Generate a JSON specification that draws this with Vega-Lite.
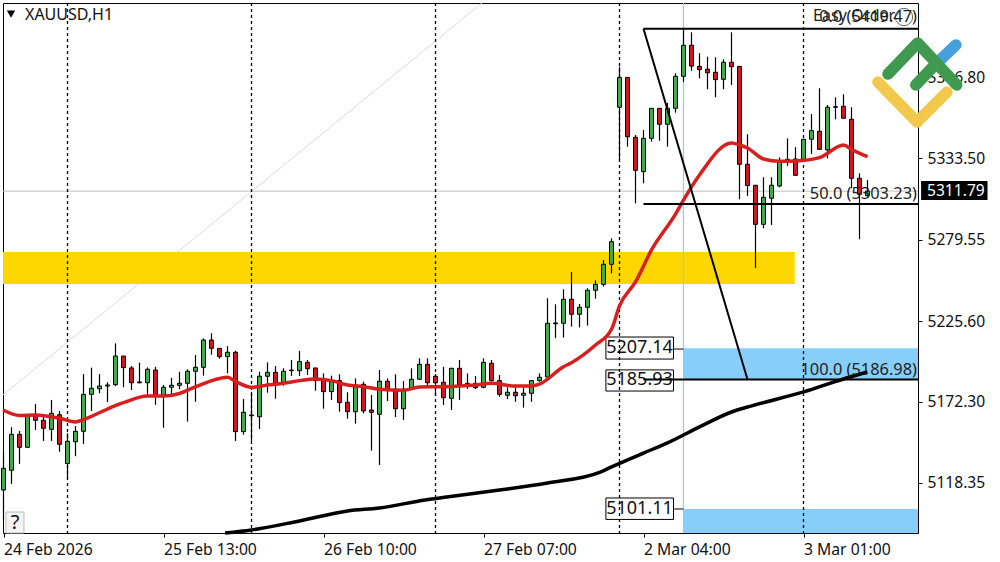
{"$schema":"https://vega.github.io/schema/vega-lite/v6.json","width":915,"height":530,"autosize":{"type":"none"},"padding":{"left":3,"top":3,"right":82,"bottom":29},"background":"#ffffff","view":{"stroke":"#000000","strokeWidth":1},"config":{"font":"Noto Sans","text":{"font":"Noto Sans"}},
"datasets":{"candles":[
{"bar":0,"open":5113.7,"high":5139.1,"low":5093.8,"close":5128.1},{"bar":1,"open":5126.8,"high":5155.3,"low":5117.7,"close":5150.6},{"bar":2,"open":5150.6,"high":5152.8,"low":5131.0,"close":5142.0},{"bar":3,"open":5142.0,"high":5163.4,"low":5142.0,"close":5162.8},{"bar":4,"open":5163.6,"high":5170.7,"low":5153.5,"close":5159.9},{"bar":5,"open":5159.9,"high":5162.8,"low":5146.2,"close":5154.6},{"bar":6,"open":5153.9,"high":5173.4,"low":5146.2,"close":5164.5},{"bar":7,"open":5163.6,"high":5166.1,"low":5139.1,"close":5144.0},{"bar":8,"open":5131.2,"high":5151.3,"low":5121.4,"close":5146.0},{"bar":9,"open":5145.7,"high":5156.1,"low":5136.1,"close":5152.6},
{"bar":10,"open":5152.6,"high":5190.6,"low":5144.2,"close":5177.1},{"bar":11,"open":5177.1,"high":5194.8,"low":5166.1,"close":5181.1},{"bar":12,"open":5180.8,"high":5190.6,"low":5177.8,"close":5182.6},{"bar":13,"open":5182.6,"high":5185.1,"low":5172.0,"close":5183.3},{"bar":14,"open":5183.5,"high":5210.9,"low":5182.6,"close":5202.5},{"bar":15,"open":5202.5,"high":5202.5,"low":5181.8,"close":5194.8},{"bar":16,"open":5194.6,"high":5195.9,"low":5180.0,"close":5184.8},{"bar":17,"open":5185.3,"high":5198.1,"low":5184.4,"close":5184.8},{"bar":18,"open":5184.8,"high":5195.0,"low":5176.7,"close":5193.7},{"bar":19,"open":5193.2,"high":5195.4,"low":5170.2,"close":5176.0},
{"bar":20,"open":5176.5,"high":5183.3,"low":5155.0,"close":5181.8},{"bar":21,"open":5181.8,"high":5188.1,"low":5177.3,"close":5183.1},{"bar":22,"open":5183.1,"high":5192.1,"low":5180.5,"close":5184.4},{"bar":23,"open":5184.4,"high":5193.7,"low":5159.0,"close":5192.4},{"bar":24,"open":5192.4,"high":5203.2,"low":5172.2,"close":5195.0},{"bar":25,"open":5195.0,"high":5214.2,"low":5189.5,"close":5213.1},{"bar":26,"open":5213.1,"high":5217.6,"low":5203.4,"close":5207.6},{"bar":27,"open":5207.6,"high":5207.6,"low":5200.7,"close":5202.1},{"bar":28,"open":5202.1,"high":5209.2,"low":5191.0,"close":5205.0},{"bar":29,"open":5205.0,"high":5206.0,"low":5146.2,"close":5152.4},
{"bar":30,"open":5152.4,"high":5174.0,"low":5150.4,"close":5165.2},{"bar":31,"open":5163.4,"high":5178.7,"low":5146.2,"close":5162.9},{"bar":32,"open":5162.3,"high":5192.1,"low":5154.1,"close":5189.1},{"bar":33,"open":5189.1,"high":5198.3,"low":5178.2,"close":5191.7},{"bar":34,"open":5191.7,"high":5195.9,"low":5174.2,"close":5183.3},{"bar":35,"open":5184.4,"high":5194.4,"low":5182.8,"close":5192.4},{"bar":36,"open":5193.2,"high":5199.9,"low":5189.3,"close":5192.8},{"bar":37,"open":5192.8,"high":5206.0,"low":5189.3,"close":5198.8},{"bar":38,"open":5198.3,"high":5199.9,"low":5189.9,"close":5194.1},{"bar":39,"open":5194.6,"high":5194.6,"low":5179.5,"close":5186.2},
{"bar":40,"open":5186.6,"high":5191.0,"low":5167.6,"close":5178.9},{"bar":41,"open":5178.9,"high":5189.5,"low":5173.4,"close":5185.5},{"bar":42,"open":5186.2,"high":5190.4,"low":5165.6,"close":5171.6},{"bar":43,"open":5171.8,"high":5178.5,"low":5161.0,"close":5165.6},{"bar":44,"open":5165.6,"high":5187.7,"low":5157.7,"close":5183.3},{"bar":45,"open":5183.8,"high":5185.5,"low":5164.5,"close":5166.1},{"bar":46,"open":5166.7,"high":5176.7,"low":5139.8,"close":5165.2},{"bar":47,"open":5163.9,"high":5193.2,"low":5130.3,"close":5185.8},{"bar":48,"open":5185.8,"high":5187.7,"low":5172.7,"close":5180.0},{"bar":49,"open":5180.5,"high":5190.4,"low":5162.1,"close":5167.6},
{"bar":50,"open":5167.6,"high":5185.9,"low":5160.1,"close":5180.5},{"bar":51,"open":5180.5,"high":5194.4,"low":5180.0,"close":5187.1},{"bar":52,"open":5187.1,"high":5201.0,"low":5186.6,"close":5197.0},{"bar":53,"open":5197.0,"high":5201.0,"low":5182.6,"close":5184.8},{"bar":54,"open":5189.1,"high":5190.6,"low":5176.7,"close":5184.8},{"bar":55,"open":5185.1,"high":5195.4,"low":5170.0,"close":5174.9},{"bar":56,"open":5174.5,"high":5194.4,"low":5166.7,"close":5194.4},{"bar":57,"open":5194.4,"high":5199.9,"low":5173.4,"close":5183.3},{"bar":58,"open":5184.4,"high":5191.0,"low":5180.7,"close":5183.3},{"bar":59,"open":5184.4,"high":5189.3,"low":5180.7,"close":5181.5},
{"bar":60,"open":5181.8,"high":5201.0,"low":5181.1,"close":5198.3},{"bar":61,"open":5197.7,"high":5199.9,"low":5185.5,"close":5186.2},{"bar":62,"open":5186.2,"high":5189.9,"low":5175.5,"close":5177.1},{"bar":63,"open":5176.5,"high":5181.8,"low":5174.0,"close":5178.5},{"bar":64,"open":5178.5,"high":5181.8,"low":5172.2,"close":5176.2},{"bar":65,"open":5176.5,"high":5181.8,"low":5168.3,"close":5177.8},{"bar":66,"open":5177.8,"high":5186.6,"low":5172.2,"close":5186.2},{"bar":67,"open":5186.2,"high":5191.0,"low":5185.5,"close":5188.4},{"bar":68,"open":5188.6,"high":5240.8,"low":5188.0,"close":5224.2},{"bar":69,"open":5224.4,"high":5236.8,"low":5214.3,"close":5223.9},
{"bar":70,"open":5224.2,"high":5246.7,"low":5214.7,"close":5240.1},{"bar":71,"open":5240.1,"high":5258.2,"low":5222.0,"close":5230.2},{"bar":72,"open":5230.2,"high":5237.0,"low":5221.5,"close":5234.8},{"bar":73,"open":5234.8,"high":5247.4,"low":5222.6,"close":5246.1},{"bar":74,"open":5246.1,"high":5252.7,"low":5240.5,"close":5250.0},{"bar":75,"open":5250.0,"high":5266.2,"low":5248.5,"close":5263.3},{"bar":76,"open":5263.3,"high":5280.5,"low":5257.3,"close":5278.3},{"bar":77,"open":5367.4,"high":5394.3,"low":5332.4,"close":5387.2},{"bar":78,"open":5387.2,"high":5387.2,"low":5341.3,"close":5347.9},{"bar":79,"open":5347.5,"high":5349.0,"low":5303.7,"close":5325.6},
{"bar":80,"open":5324.7,"high":5352.3,"low":5317.0,"close":5346.8},{"bar":81,"open":5346.8,"high":5366.7,"low":5344.6,"close":5366.7},{"bar":82,"open":5366.7,"high":5366.7,"low":5345.2,"close":5356.1},{"bar":83,"open":5356.1,"high":5370.2,"low":5341.3,"close":5366.7},{"bar":84,"open":5366.7,"high":5389.9,"low":5363.8,"close":5387.9},{"bar":85,"open":5387.9,"high":5419.3,"low":5384.1,"close":5408.5},{"bar":86,"open":5408.5,"high":5417.1,"low":5391.6,"close":5394.7},{"bar":87,"open":5394.5,"high":5403.2,"low":5386.6,"close":5392.3},{"bar":88,"open":5392.6,"high":5400.9,"low":5379.3,"close":5390.3},{"bar":89,"open":5390.6,"high":5400.5,"low":5374.0,"close":5385.7},
{"bar":90,"open":5385.9,"high":5399.2,"low":5379.3,"close":5397.2},{"bar":91,"open":5397.2,"high":5417.1,"low":5382.2,"close":5394.3},{"bar":92,"open":5394.5,"high":5394.5,"low":5306.4,"close":5329.6},{"bar":93,"open":5329.6,"high":5349.5,"low":5308.6,"close":5315.5},{"bar":94,"open":5315.7,"high":5315.7,"low":5260.7,"close":5289.8},{"bar":95,"open":5289.8,"high":5321.0,"low":5287.2,"close":5307.7},{"bar":96,"open":5307.1,"high":5321.0,"low":5289.4,"close":5315.7},{"bar":97,"open":5315.2,"high":5334.2,"low":5314.3,"close":5331.3},{"bar":98,"open":5332.9,"high":5346.8,"low":5328.5,"close":5332.0},{"bar":99,"open":5333.1,"high":5340.9,"low":5322.3,"close":5322.3},
{"bar":100,"open":5332.9,"high":5346.2,"low":5332.4,"close":5346.2},{"bar":101,"open":5346.2,"high":5362.9,"low":5336.4,"close":5351.9},{"bar":102,"open":5351.5,"high":5380.0,"low":5339.1,"close":5339.5},{"bar":103,"open":5339.1,"high":5368.9,"low":5333.6,"close":5367.4},{"bar":104,"open":5367.8,"high":5374.0,"low":5359.4,"close":5367.4},{"bar":105,"open":5368.0,"high":5376.0,"low":5360.1,"close":5360.1},{"bar":106,"open":5359.4,"high":5367.4,"low":5313.7,"close":5320.3},{"bar":107,"open":5320.3,"high":5323.6,"low":5279.9,"close":5309.7},{"bar":108,"open":5308.8,"high":5319.2,"low":5308.1,"close":5311.79}],
"fast":[{"bar":-0.06,"price":5166.7},{"bar":2,"price":5163.1},{"bar":4,"price":5163.4},{"bar":7,"price":5161.2},{"bar":9,"price":5158.8},{"bar":10,"price":5160.4},{"bar":14,"price":5169.7},{"bar":15,"price":5171.6},{"bar":18,"price":5176.0},{"bar":20,"price":5176.0},{"bar":22,"price":5177.7},{"bar":24,"price":5182.0},{"bar":28,"price":5188.4},{"bar":29,"price":5185.6},{"bar":31,"price":5181.8},{"bar":33,"price":5183.3},{"bar":35,"price":5184.4},{"bar":37,"price":5186.2},{"bar":39,"price":5187.3},{"bar":41,"price":5186.2},{"bar":43,"price":5183.3},{"bar":45,"price":5182.2},{"bar":47,"price":5180.5},{"bar":50,"price":5179.8},{"bar":52,"price":5182.0},{"bar":55,"price":5182.2},{"bar":59,"price":5183.3},{"bar":61,"price":5184.4},{"bar":64,"price":5182.6},{"bar":66,"price":5182.6},{"bar":67,"price":5183.9},{"bar":70,"price":5195.4},{"bar":71,"price":5198.1},{"bar":74,"price":5209.8},{"bar":76,"price":5220.2},{"bar":77,"price":5235.7},{"bar":79,"price":5251.6},{"bar":81,"price":5272.8},{"bar":84,"price":5296.6},{"bar":85,"price":5305.9},{"bar":87,"price":5322.5},{"bar":91,"price":5343.7},{"bar":92,"price":5342.4},{"bar":93,"price":5340.4},{"bar":95,"price":5333.1},{"bar":97,"price":5331.6},{"bar":99,"price":5331.8},{"bar":102,"price":5334.0},{"bar":105,"price":5342.4},{"bar":106,"price":5339.5},{"bar":108,"price":5334.6}],
"slow":[{"bar":27.7,"price":5085.2},{"bar":31,"price":5087.2},{"bar":37,"price":5093.2},{"bar":43,"price":5099.8},{"bar":47,"price":5101.8},{"bar":52.7,"price":5107.1},{"bar":55.4,"price":5109.1},{"bar":62,"price":5113.7},{"bar":68,"price":5118.4},{"bar":74.6,"price":5125.6},{"bar":76,"price":5129.0},{"bar":80,"price":5138.2},{"bar":83,"price":5144.9},{"bar":87,"price":5155.5},{"bar":91,"price":5165.4},{"bar":93,"price":5168.7},{"bar":100,"price":5178.7},{"bar":105,"price":5187.3},{"bar":108,"price":5191.9}],
"logo":[{"part":"yellow","seq":1,"bar":109.31,"price":5384.1},{"part":"yellow","seq":2,"bar":114.19,"price":5357.6},{"part":"yellow","seq":3,"bar":117.94,"price":5377.5},{"part":"blue","seq":1,"bar":116.81,"price":5397.4},{"part":"blue","seq":2,"bar":119.06,"price":5408.7},{"part":"green1","seq":1,"bar":110.56,"price":5389.4},{"part":"green1","seq":2,"bar":114.27,"price":5410.0},{"part":"green1","seq":3,"bar":119.15,"price":5382.2},{"part":"green2","seq":1,"bar":114.03,"price":5382.2},{"part":"green2","seq":2,"bar":116.65,"price":5396.7}]},
"layer":[
{"data":{"values":[{"bar":-0.0625,"price":5176.7,"bar2":59.8,"price2":5436.5}]},"mark":{"type":"rule","stroke":"#dcdcdc","strokeWidth":1},"encoding":{"x":{"field":"bar","type":"quantitative","scale":{"domain":[-0.0625,114.3125],"nice":false,"zero":false,"padding":0},"axis":{"orient":"bottom","values":[0,20,40,60,80,100],"labelExpr":"{'0':'24 Feb 2026','20':'25 Feb 13:00','40':'26 Feb 10:00','60':'27 Feb 07:00','80':'2 Mar 04:00','100':'3 Mar 01:00'}[datum.value]","title":null,"grid":false,"domain":false,"ticks":true,"tickColor":"#000","tickSize":4,"labelAlign":"left","labelPadding":5,"labelFont":"Noto Sans","labelFontSize":15.7,"labelColor":"#111","labelFlush":false,"labelOverlap":false}},"x2":{"field":"bar2"},"y":{"field":"price","type":"quantitative","scale":{"domain":[5085.2,5436.5],"nice":false,"zero":false},"axis":{"orient":"right","values":[5118.35,5172.30,5225.60,5279.55,5333.50,5386.80],"format":".2f","title":null,"grid":false,"domain":false,"ticks":true,"tickColor":"#000","tickSize":4,"labelPadding":5,"labelFont":"Noto Sans","labelFontSize":15.6,"labelColor":"#111","labelOverlap":false}},"y2":{"field":"price2"}}},
{"data":{"values":[{"price":5311.79}]},"mark":{"type":"rule","stroke":"#c0c0c0","strokeWidth":1},"encoding":{"y":{"field":"price","type":"quantitative"}}},
{"data":{"values":[{"bar":-0.0625,"bar2":98.9,"low":5250.25,"high":5271.46}]},"mark":{"type":"rect","fill":"#ffd700"},"encoding":{"x":{"field":"bar","type":"quantitative"},"x2":{"field":"bar2"},"y":{"field":"low","type":"quantitative"},"y2":{"field":"high"}}},
{"data":{"values":[{"bar":85,"bar2":114.3125,"low":5186.98,"high":5207.6},{"bar":85,"bar2":114.3125,"low":5085.2,"high":5101.11}]},"mark":{"type":"rect","fill":"#87cefa"},"encoding":{"x":{"field":"bar","type":"quantitative"},"x2":{"field":"bar2"},"y":{"field":"low","type":"quantitative"},"y2":{"field":"high"}}},
{"data":{"values":[{"bar":85}]},"mark":{"type":"rule","stroke":"#87cefa","strokeWidth":1.2},"encoding":{"x":{"field":"bar","type":"quantitative"}}},
{"data":{"values":[{"bar":83.75,"bar2":85,"price":5207.14},{"bar":83.75,"bar2":85,"price":5101.11}]},"mark":{"type":"rule","stroke":"#000","strokeWidth":1},"encoding":{"x":{"field":"bar","type":"quantitative"},"x2":{"field":"bar2"},"y":{"field":"price","type":"quantitative"}}},
{"data":{"values":[{"bar":75.3,"bar2":83.75,"low":5200.5,"high":5215.1},{"bar":75.3,"bar2":83.75,"low":5179.3,"high":5193.3},{"bar":75.3,"bar2":83.75,"low":5094.2,"high":5108.4}]},"mark":{"type":"rect","fill":"#ffffff","stroke":"#000","strokeWidth":1},"encoding":{"x":{"field":"bar","type":"quantitative"},"x2":{"field":"bar2"},"y":{"field":"low","type":"quantitative"},"y2":{"field":"high"}}},
{"data":{"values":[{"bar":79.5,"price":5207.8,"label":"5207.14"},{"bar":79.5,"price":5186.3,"label":"5185.93"},{"bar":79.5,"price":5101.3,"label":"5101.11"}]},"mark":{"type":"text","font":"Noto Sans","fontSize":18,"color":"#111","align":"center","baseline":"middle"},"encoding":{"x":{"field":"bar","type":"quantitative"},"y":{"field":"price","type":"quantitative"},"text":{"field":"label"}}},
{"data":{"values":[{"bar":8},{"bar":31},{"bar":54},{"bar":77},{"bar":100}]},"mark":{"type":"rule","stroke":"#000","strokeWidth":1.3,"strokeDash":[3,3]},"encoding":{"x":{"field":"bar","type":"quantitative"}}},
{"data":{"name":"candles"},"mark":{"type":"rule","stroke":"#000","strokeWidth":1.2},"encoding":{"x":{"field":"bar","type":"quantitative"},"y":{"field":"low","type":"quantitative"},"y2":{"field":"high"}}},
{"data":{"name":"candles"},"mark":{"type":"bar","size":4,"orient":"vertical","stroke":"#000","strokeWidth":1},"encoding":{"x":{"field":"bar","type":"quantitative"},"y":{"field":"open","type":"quantitative"},"y2":{"field":"close"},"fill":{"condition":{"test":"datum.close>=datum.open","value":"#45a84f"},"value":"#cc1820"}}},
{"data":{"name":"fast"},"mark":{"type":"line","stroke":"#d81e1e","strokeWidth":3.5,"interpolate":"monotone"},"encoding":{"x":{"field":"bar","type":"quantitative"},"y":{"field":"price","type":"quantitative"}}},
{"data":{"name":"slow"},"mark":{"type":"line","stroke":"#000","strokeWidth":3.5,"interpolate":"monotone"},"encoding":{"x":{"field":"bar","type":"quantitative"},"y":{"field":"price","type":"quantitative"}}},
{"data":{"values":[{"bar":80,"bar2":114.3125,"price":5419.47},{"bar":80,"bar2":114.3125,"price":5303.23},{"bar":80,"bar2":114.3125,"price":5186.98}]},"mark":{"type":"rule","stroke":"#000","strokeWidth":2},"encoding":{"x":{"field":"bar","type":"quantitative"},"x2":{"field":"bar2"},"y":{"field":"price","type":"quantitative"}}},
{"data":{"values":[{"bar":80,"price":5419.47,"bar2":93,"price2":5186.98}]},"mark":{"type":"rule","stroke":"#000","strokeWidth":2},"encoding":{"x":{"field":"bar","type":"quantitative"},"x2":{"field":"bar2"},"y":{"field":"price","type":"quantitative"},"y2":{"field":"price2"}}},
{"data":{"values":[{"bar":114.19,"price":5427.2,"label":"0.0 (5419.47)"},{"bar":114.19,"price":5309.9,"label":"50.0 (5303.23)"},{"bar":114.19,"price":5193.2,"label":"100.0 (5186.98)"}]},"mark":{"type":"text","font":"Noto Sans","fontSize":16.4,"color":"#222","align":"right","baseline":"middle"},"encoding":{"x":{"field":"bar","type":"quantitative"},"y":{"field":"price","type":"quantitative"},"text":{"field":"label"}}},
{"data":{"values":[{"bar":101.2,"price":5427.9,"label":"Easy Order"}]},"mark":{"type":"text","font":"Noto Sans","fontSize":16,"color":"#222","align":"left","baseline":"middle"},"encoding":{"x":{"field":"bar","type":"quantitative"},"y":{"field":"price","type":"quantitative"},"text":{"field":"label"}}},
{"data":{"values":[{"bar":112.56,"price":5427.2}]},"mark":{"type":"point","shape":"circle","size":300,"filled":false,"stroke":"#222","strokeWidth":1},"encoding":{"x":{"field":"bar","type":"quantitative"},"y":{"field":"price","type":"quantitative"}}},
{"data":{"values":[{"bar":0.94,"price":5429.2}]},"mark":{"type":"point","shape":"triangle-down","size":70,"filled":true,"fill":"#000","opacity":1},"encoding":{"x":{"field":"bar","type":"quantitative"},"y":{"field":"price","type":"quantitative"}}},
{"data":{"values":[{"bar":2.69,"price":5428.6,"label":"XAUUSD,H1"}]},"mark":{"type":"text","font":"Noto Sans","fontSize":16,"color":"#111","align":"left","baseline":"middle"},"encoding":{"x":{"field":"bar","type":"quantitative"},"y":{"field":"price","type":"quantitative"},"text":{"field":"label"}}},
{"data":{"values":[{"bar":0.31,"bar2":2.56,"low":5085.2,"high":5099.1}]},"mark":{"type":"rect","fill":"#f5f5f5","stroke":"#bbbbbb","strokeWidth":1},"encoding":{"x":{"field":"bar","type":"quantitative"},"x2":{"field":"bar2"},"y":{"field":"low","type":"quantitative"},"y2":{"field":"high"}}},
{"data":{"values":[{"bar":1.44,"price":5091.8,"label":"?"}]},"mark":{"type":"text","font":"Noto Sans","fontSize":20,"color":"#111","align":"center","baseline":"middle"},"encoding":{"x":{"field":"bar","type":"quantitative"},"y":{"field":"price","type":"quantitative"},"text":{"field":"label"}}},
{"data":{"values":[{"bar":114.7,"bar2":123.0,"low":5305.9,"high":5318.5}]},"mark":{"type":"rect","fill":"#000"},"encoding":{"x":{"field":"bar","type":"quantitative"},"x2":{"field":"bar2"},"y":{"field":"low","type":"quantitative"},"y2":{"field":"high"}}},
{"data":{"values":[{"bar":115.44,"price":5312,"label":"5311.79"}]},"mark":{"type":"text","font":"Noto Sans","fontSize":15.6,"color":"#fff","align":"left","baseline":"middle"},"encoding":{"x":{"field":"bar","type":"quantitative"},"y":{"field":"price","type":"quantitative"},"text":{"field":"label"}}},
{"data":{"name":"logo"},"mark":{"type":"line","strokeWidth":11.5,"strokeCap":"round","strokeJoin":"round"},"encoding":{"x":{"field":"bar","type":"quantitative"},"y":{"field":"price","type":"quantitative"},"order":{"field":"seq"},"detail":{"field":"part"},"color":{"field":"part","type":"nominal","legend":null,"scale":{"domain":["yellow","blue","green1","green2"],"range":["#f2c94c","#45a0dc","#3f9a50","#3f9a50"]}}}}
]}
